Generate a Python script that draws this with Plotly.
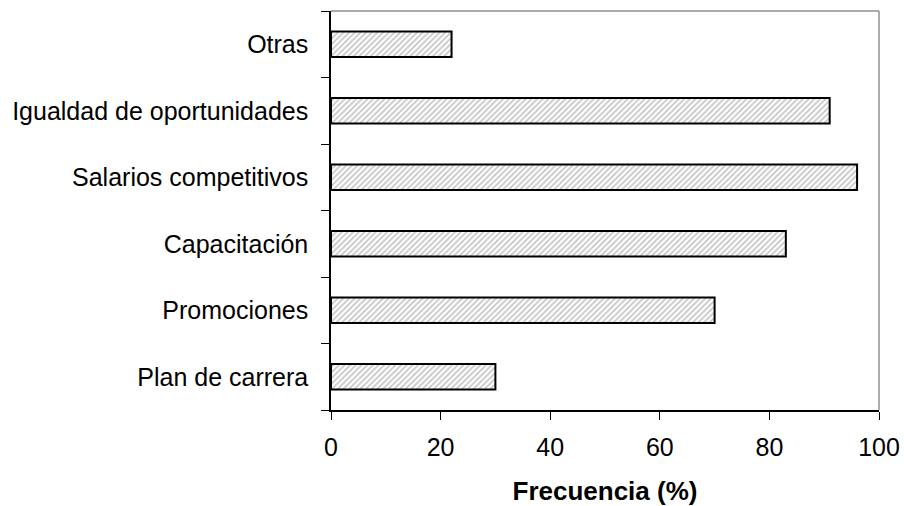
import plotly.graph_objects as go

categories = ["Plan de carrera", "Promociones", "Capacitación",
              "Salarios competitivos", "Igualdad de oportunidades", "Otras"]
frecuencia = [30, 70, 83, 96, 91, 22]
x_ticks = [0, 20, 40, 60, 80, 100]

fig = go.Figure(go.Bar(
    x=frecuencia, y=categories, orientation="h",
    marker=dict(color="white",
                line=dict(color="black", width=2),
                pattern=dict(shape="/", fgcolor="#8c8c8c", bgcolor="white",
                             size=4, solidity=0.45)),
    width=0.385,
))

font = "Liberation Sans, Arial, sans-serif"
fig.update_layout(
    width=904, height=506,
    margin=dict(l=331, r=25, t=11, b=96, autoexpand=False),
    plot_bgcolor="white", paper_bgcolor="white",
    showlegend=False,
    font=dict(family=font, color="black"),
    xaxis=dict(range=[0, 100], tickvals=x_ticks, ticks="outside", ticklen=8,
               tickcolor="black", tickwidth=1.3, showgrid=False, zeroline=False,
               showline=True, linecolor="black", linewidth=1.5, automargin=False,
               tickfont=dict(size=25, family=font), ticklabelstandoff=6,
               title=dict(text="<b>Frecuencia (%)</b>", font=dict(size=26, family=font),
                          standoff=22)),
    yaxis=dict(type="category", ticks="outside", ticklen=8, tickson="boundaries",
               tickcolor="black", tickwidth=1.3, showgrid=False, zeroline=False,
               showline=True, linecolor="black", linewidth=1.5, automargin=False,
               tickfont=dict(size=25, family=font), ticklabelstandoff=16),
    shapes=[
        dict(type="line", xref="paper", yref="paper", x0=0, x1=1, y0=1, y1=1,
             line=dict(color="#909090", width=1.5)),
        dict(type="line", xref="paper", yref="paper", x0=1, x1=1, y0=0, y1=1,
             line=dict(color="#909090", width=1.5)),
    ],
)

fig.write_html("out.html", config={"displayModeBar": False},
               post_script="document.body.style.margin='0';document.body.style.overflow='hidden';")
